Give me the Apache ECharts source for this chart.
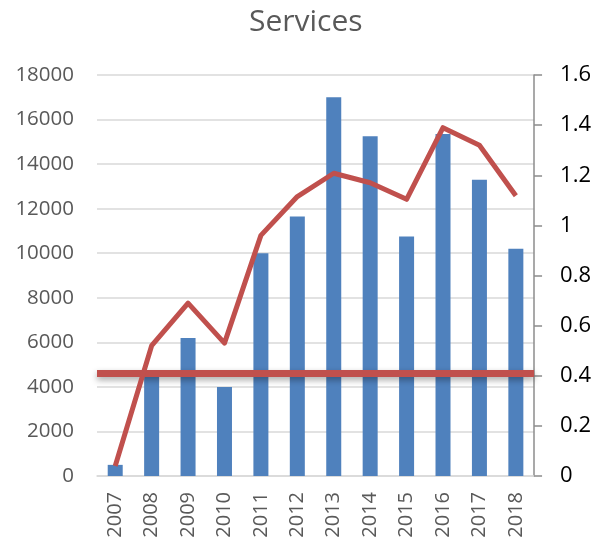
<!DOCTYPE html>
<html>
<head>
<meta charset="utf-8">
<script src="https://cdn.jsdelivr.net/npm/echarts@6/dist/echarts.min.js"></script>
<style>
  html, body { margin: 0; padding: 0; background: #fff; }
</style>
</head>
<body>
<div id="chart" style="width:594px; height:542px;"></div>
<script>
const years = ['2007', '2008', '2009', '2010', '2011', '2012', '2013', '2014', '2015', '2016', '2017', '2018']
const services = [500, 4500, 6200, 4000, 10000, 11650, 17000, 15250, 10750, 15350, 13300, 10200]
const ratio = [0.04, 0.52, 0.69, 0.53, 0.96, 1.115, 1.208, 1.17, 1.104, 1.39, 1.32, 1.118]
const refLevel = 0.415

const chart = echarts.init(document.getElementById('chart'))

chart.setOption({
  animation: false,
  title: {
    text: 'Services',
    left: 244,
    top: 2,
    textStyle: {
      fontFamily: 'Open Sans',
      fontSize: 30,
      fontWeight: 'normal',
      color: '#595959'
    }
  },
  grid: {
    left: 97,
    right: 56,
    top: 75,
    bottom: 66
  },
  xAxis: {
    type: 'category',
    data: years,
    axisTick: { show: false },
    axisLine: { show: true, lineStyle: { color: '#d9d9d9', width: 1.5 } },
    axisLabel: {
      rotate: 90,
      margin: 16,
      fontFamily: 'Open Sans',
      fontSize: 20,
      color: '#595959'
    }
  },
  yAxis: [
    {
      type: 'value',
      min: 0,
      max: 18000,
      interval: 2000,
      axisLine: { show: false },
      axisTick: { show: false },
      splitLine: { lineStyle: { color: '#d9d9d9', width: 1.5 } },
      axisLabel: {
        margin: 23,
        fontFamily: 'Open Sans',
        fontSize: 20.5,
        color: '#595959',
        formatter: v => String(v)
      }
    },
    {
      type: 'value',
      min: 0,
      max: 1.6,
      interval: 0.2,
      position: 'right',
      axisLine: { show: true, lineStyle: { color: '#8c8c8c', width: 1.5 } },
      axisTick: { show: true, length: 8, lineStyle: { color: '#8c8c8c', width: 1.5 } },
      splitLine: { show: false },
      axisLabel: {
        margin: 26,
        fontFamily: 'Open Sans',
        fontSize: 22,
        color: '#000',
        formatter: v => String(Math.round(v * 10) / 10)
      }
    }
  ],
  series: [
    {
      name: 'Services',
      type: 'bar',
      barWidth: 15,
      itemStyle: { color: '#4F81BD' },
      data: services
    },
    {
      name: 'Ratio',
      type: 'line',
      yAxisIndex: 1,
      symbol: 'none',
      z: 5,
      lineStyle: { color: '#C0504D', width: 5, join: 'round' },
      data: ratio,
      markLine: {
        symbol: 'none',
        silent: true,
        label: { show: false },
        lineStyle: {
          type: 'solid',
          color: '#C0504D',
          width: 7,
          shadowBlur: 6,
          shadowColor: 'rgba(0,0,0,0.35)',
          shadowOffsetY: 3
        },
        data: [{ yAxis: refLevel }]
      }
    }
  ]
})
</script>
</body>
</html>
